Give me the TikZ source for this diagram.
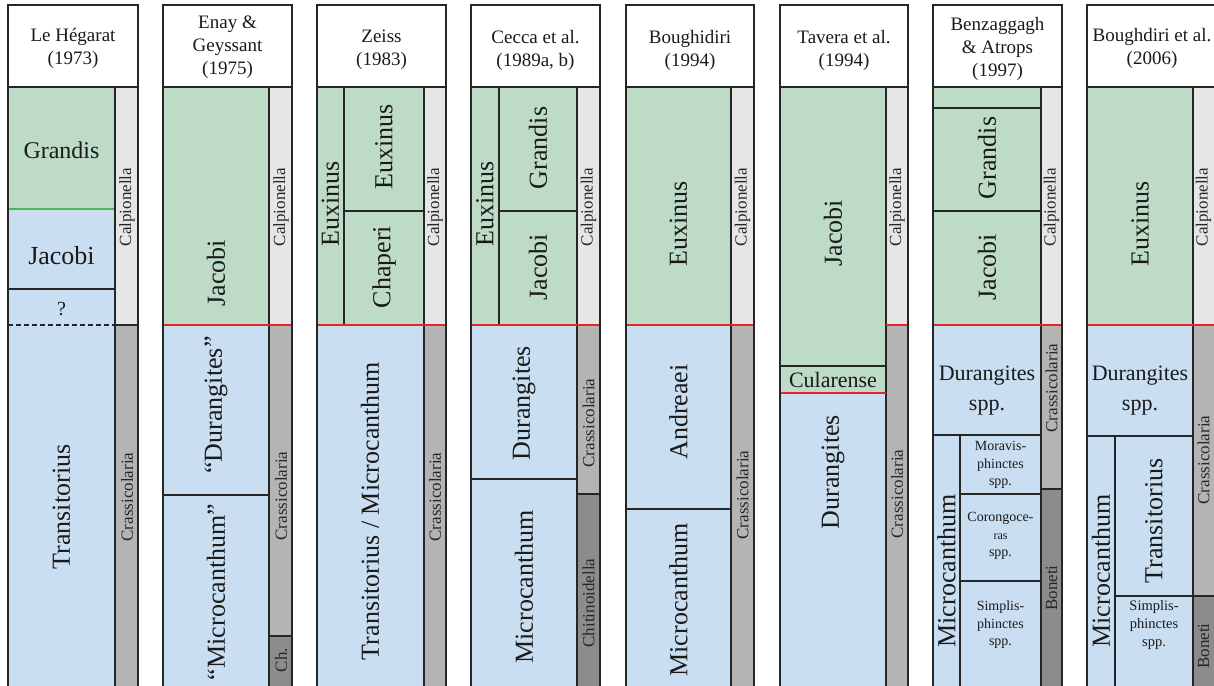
\documentclass[tikz,border=0pt]{standalone}
\usepackage{fontspec}
\setmainfont{Liberation Serif}
\definecolor{gz}{HTML}{BDDBC6}
\definecolor{bz}{HTML}{C9DEF1}
\definecolor{lg}{HTML}{E6E6E6}
\definecolor{mg}{HTML}{B4B4B4}
\definecolor{dg}{HTML}{8C8C8C}
\definecolor{ln}{HTML}{262626}
\definecolor{rl}{HTML}{E3262A}
\definecolor{gl}{HTML}{4CB84C}
\definecolor{tx}{HTML}{1A1A1A}
\begin{document}
\begin{tikzpicture}[x=1pt,y=-1pt,
  edge/.style={draw=ln, line width=1.8pt},
  thin/.style={draw=ln, line width=1.6pt},
  redl/.style={draw=rl, line width=1.8pt},
  hdr/.style={font=\fontsize{19}{23}\selectfont, align=center, text=tx, inner sep=0pt},
  big/.style={font=\fontsize{26}{30}\selectfont, text=tx, inner sep=0pt},
  bigr/.style={big, rotate=90},
  mid/.style={font=\fontsize{22}{30}\selectfont, align=center, text=tx, inner sep=0pt},
  lbl/.style={font=\fontsize{17}{20}\selectfont, rotate=90, text=ln, inner sep=0pt},
  sm/.style={font=\fontsize{14}{17.5}\selectfont, align=center, text=tx, inner sep=0pt}
]
\useasboundingbox (0,0) rectangle (1214,685);
\clip (0,0) rectangle (1214,685);

% ---------- Column 1: Le Hegarat ----------
\fill[gz] (8,87) rectangle (115,209);
\fill[bz] (8,209) rectangle (115,700);
\fill[lg] (115,87) rectangle (138,325);
\fill[mg] (115,325) rectangle (138,700);
\draw[draw=gl, line width=1.6pt] (8,209) -- (115,209);
\draw[thin] (8,289) -- (115,289);
\draw[draw=ln, line width=1.4pt, dash pattern=on 5pt off 3pt] (8,325) -- (115,325);
\draw[thin] (115,325) -- (138,325);
\draw[thin] (115,87) -- (115,700);
\draw[edge] (8,87) rectangle (138,700);
\draw[edge, fill=white] (8,5) rectangle (138,87);
\node[hdr] (h1) at (73,48) {Le Hégarat\\(1973)};
\node[font=\fontsize{24}{28}\selectfont, text=tx] (c1a) at (61.5,150) {Grandis};
\node[big] (c1b) at (61.5,256) {Jacobi};
\node[font=\fontsize{20}{24}\selectfont, text=tx] (c1c) at (61.5,309) {?};
\node[bigr] (c1d) at (61.5,507) {Transitorius};
\node[lbl] (c1e) at (127,207) {Calpionella};
\node[lbl] (c1f) at (127,497) {Crassicolaria};

% ---------- Column 2: Enay & Geyssant ----------
\fill[gz] (163,87) rectangle (269,325);
\fill[bz] (163,325) rectangle (269,700);
\fill[lg] (269,87) rectangle (292,325);
\fill[mg] (269,325) rectangle (292,636);
\fill[dg] (269,636) rectangle (292,700);
\draw[thin] (163,495) -- (269,495);
\draw[thin] (269,636) -- (292,636);
\draw[thin] (269,87) -- (269,700);
\draw[redl] (163,325) -- (292,325);
\draw[edge] (163,87) rectangle (292,700);
\draw[edge, fill=white] (163,5) rectangle (292,87);
\node[hdr] (h2) at (227.5,47) {Enay \&\\Geyssant\\(1975)};
\node[bigr] (c2a) at (216,273) {Jacobi};
\node[bigr] (c2b) at (216,405) {``Durangites''};
\node[bigr] (c2c) at (216,592) {``Microcanthum''};
\node[lbl] (c2d) at (281,207) {Calpionella};
\node[lbl] (c2e) at (281,496) {Crassicolaria};
\node[lbl] (c2f) at (281,660) {Ch.};

% ---------- Column 3: Zeiss ----------
\fill[gz] (317,87) rectangle (424,325);
\fill[bz] (317,325) rectangle (424,700);
\fill[lg] (424,87) rectangle (446,325);
\fill[mg] (424,325) rectangle (446,700);
\draw[thin] (344,87) -- (344,325);
\draw[thin] (344,211) -- (424,211);
\draw[thin] (424,87) -- (424,700);
\draw[redl] (317,325) -- (446,325);
\draw[edge] (317,87) rectangle (446,700);
\draw[edge, fill=white] (317,5) rectangle (446,87);
\node[hdr] (h3) at (381.5,50) {Zeiss\\(1983)};
\node[bigr] (c3a) at (330.5,204) {Euxinus};
\node[bigr] (c3b) at (384,147) {Euxinus};
\node[bigr] (c3c) at (384,267) {Chaperi};
\node[bigr] (c3d) at (370,511) {Transitorius / Microcanthum};
\node[lbl] (c3e) at (435,207) {Calpionella};
\node[lbl] (c3f) at (435,497) {Crassicolaria};

% ---------- Column 4: Cecca et al. ----------
\fill[gz] (471,87) rectangle (577,325);
\fill[bz] (471,325) rectangle (577,700);
\fill[lg] (577,87) rectangle (600,325);
\fill[mg] (577,325) rectangle (600,494);
\fill[dg] (577,494) rectangle (600,700);
\draw[thin] (499,87) -- (499,325);
\draw[thin] (499,211) -- (577,211);
\draw[thin] (471,479) -- (577,479);
\draw[thin] (577,494) -- (600,494);
\draw[thin] (577,87) -- (577,700);
\draw[redl] (471,325) -- (600,325);
\draw[edge] (471,87) rectangle (600,700);
\draw[edge, fill=white] (471,5) rectangle (600,87);
\node[hdr] (h4) at (535.5,50) {Cecca et al.\\(1989a, b)};
\node[bigr] (c4a) at (485,204) {Euxinus};
\node[bigr] (c4b) at (538,148) {Grandis};
\node[bigr] (c4c) at (538,267) {Jacobi};
\node[bigr] (c4d) at (524,403) {Durangites};
\node[bigr] (c4e) at (524,587) {Microcanthum};
\node[lbl] (c4f) at (588.5,207) {Calpionella};
\node[lbl] (c4g) at (588.5,423) {Crassicolaria};
\node[lbl] (c4h) at (588.5,603) {Chitinoidella};

% ---------- Column 5: Boughidiri ----------
\fill[gz] (626,87) rectangle (731,325);
\fill[bz] (626,325) rectangle (731,700);
\fill[lg] (731,87) rectangle (754,325);
\fill[mg] (731,325) rectangle (754,700);
\draw[thin] (626,509) -- (731,509);
\draw[thin] (731,87) -- (731,700);
\draw[redl] (626,325) -- (754,325);
\draw[edge] (626,87) rectangle (754,700);
\draw[edge, fill=white] (626,5) rectangle (754,87);
\node[hdr] (h5) at (690,50) {Boughidiri\\(1994)};
\node[bigr] (c5a) at (678.5,224) {Euxinus};
\node[bigr] (c5b) at (678.5,412) {Andreaei};
\node[bigr] (c5c) at (678.5,600) {Microcanthum};
\node[lbl] (c5d) at (742.5,207) {Calpionella};
\node[lbl] (c5e) at (742.5,495) {Crassicolaria};

% ---------- Column 6: Tavera et al. ----------
\fill[gz] (780,87) rectangle (886,393);
\fill[bz] (780,393) rectangle (886,700);
\fill[lg] (886,87) rectangle (908,325);
\fill[mg] (886,325) rectangle (908,700);
\draw[thin] (780,366) -- (886,366);
\draw[thin] (886,87) -- (886,700);
\draw[redl] (780,393) -- (886,393);
\draw[redl] (886,325) -- (908,325);
\draw[edge] (780,87) rectangle (908,700);
\draw[edge, fill=white] (780,5) rectangle (908,87);
\node[hdr] (h6) at (844,50) {Tavera et al.\\(1994)};
\node[bigr] (c6a) at (833,233) {Jacobi};
\node[font=\fontsize{22}{26}\selectfont, text=tx, inner sep=0pt] (c6b) at (833,380) {Cularense};
\node[bigr] (c6c) at (833,472) {Durangites};
\node[lbl] (c6d) at (897,207) {Calpionella};
\node[lbl] (c6e) at (897,494) {Crassicolaria};

% ---------- Column 7: Benzaggagh & Atrops ----------
\fill[gz] (933,87) rectangle (1041,325);
\fill[bz] (933,325) rectangle (1041,700);
\fill[lg] (1041,87) rectangle (1062,325);
\fill[mg] (1041,325) rectangle (1062,489);
\fill[dg] (1041,489) rectangle (1062,700);
\draw[thin] (933,108) -- (1041,108);
\draw[thin] (933,211) -- (1041,211);
\draw[thin] (933,435) -- (1041,435);
\draw[thin] (960,435) -- (960,700);
\draw[thin] (960,494) -- (1041,494);
\draw[thin] (960,581) -- (1041,581);
\draw[thin] (1041,489) -- (1062,489);
\draw[thin] (1041,87) -- (1041,700);
\draw[redl] (933,325) -- (1062,325);
\draw[edge] (933,87) rectangle (1062,700);
\draw[edge, fill=white] (933,5) rectangle (1062,87);
\node[hdr] (h7) at (997.5,49) {Benzaggagh\\\& Atrops\\(1997)};
\node[bigr] (c7a) at (987,158) {Grandis};
\node[bigr] (c7b) at (987,267) {Jacobi};
\node[mid] (c7c) at (987,391) {Durangites\\spp.};
\node[bigr] (c7d) at (946.5,571) {Microcanthum};
\node[sm] (c7e) at (1000.5,465) {Moravis-\\phinctes\\spp.};
\node[sm] (c7f) at (1000.5,536) {Corongoce-\\{\fontsize{12}{17.5}\selectfont ras}\\spp.};
\node[sm] (c7g) at (1000.5,625) {Simplis-\\phinctes\\spp.};
\node[lbl] (c7h) at (1051.5,207) {Calpionella};
\node[lbl] (c7i) at (1051.5,388) {Crassicolaria};
\node[lbl] (c7j) at (1051.5,588) {Boneti};

% ---------- Column 8: Boughdiri et al. ----------
\fill[gz] (1087,87) rectangle (1193,325);
\fill[bz] (1087,325) rectangle (1193,700);
\fill[lg] (1193,87) rectangle (1224,325);
\fill[mg] (1193,325) rectangle (1224,596);
\fill[dg] (1193,596) rectangle (1224,700);
\draw[thin] (1087,436) -- (1193,436);
\draw[thin] (1115,436) -- (1115,700);
\draw[thin] (1115,596) -- (1224,596);
\draw[thin] (1193,87) -- (1193,700);
\draw[redl] (1087,325) -- (1224,325);
\draw[edge] (1087,87) rectangle (1224,700);
\draw[edge, fill=white] (1087,5) rectangle (1224,87);
\node[hdr] (h8) at (1152,48) {Boughdiri et al.\\(2006)};
\node[bigr] (c8a) at (1140,224) {Euxinus};
\node[mid] (c8b) at (1140,391) {Durangites\\spp.};
\node[bigr] (c8c) at (1101,571) {Microcanthum};
\node[bigr] (c8d) at (1154,521) {Transitorius};
\node[sm, font=\fontsize{14.5}{18}\selectfont] (c8e) at (1154,625) {Simplis-\\phinctes\\spp.};
\node[lbl] (c8f) at (1203.5,207) {Calpionella};
\node[lbl] (c8g) at (1203.5,460) {Crassicolaria};
\node[lbl] (c8h) at (1203.5,646) {Boneti};
\end{tikzpicture}
\end{document}
